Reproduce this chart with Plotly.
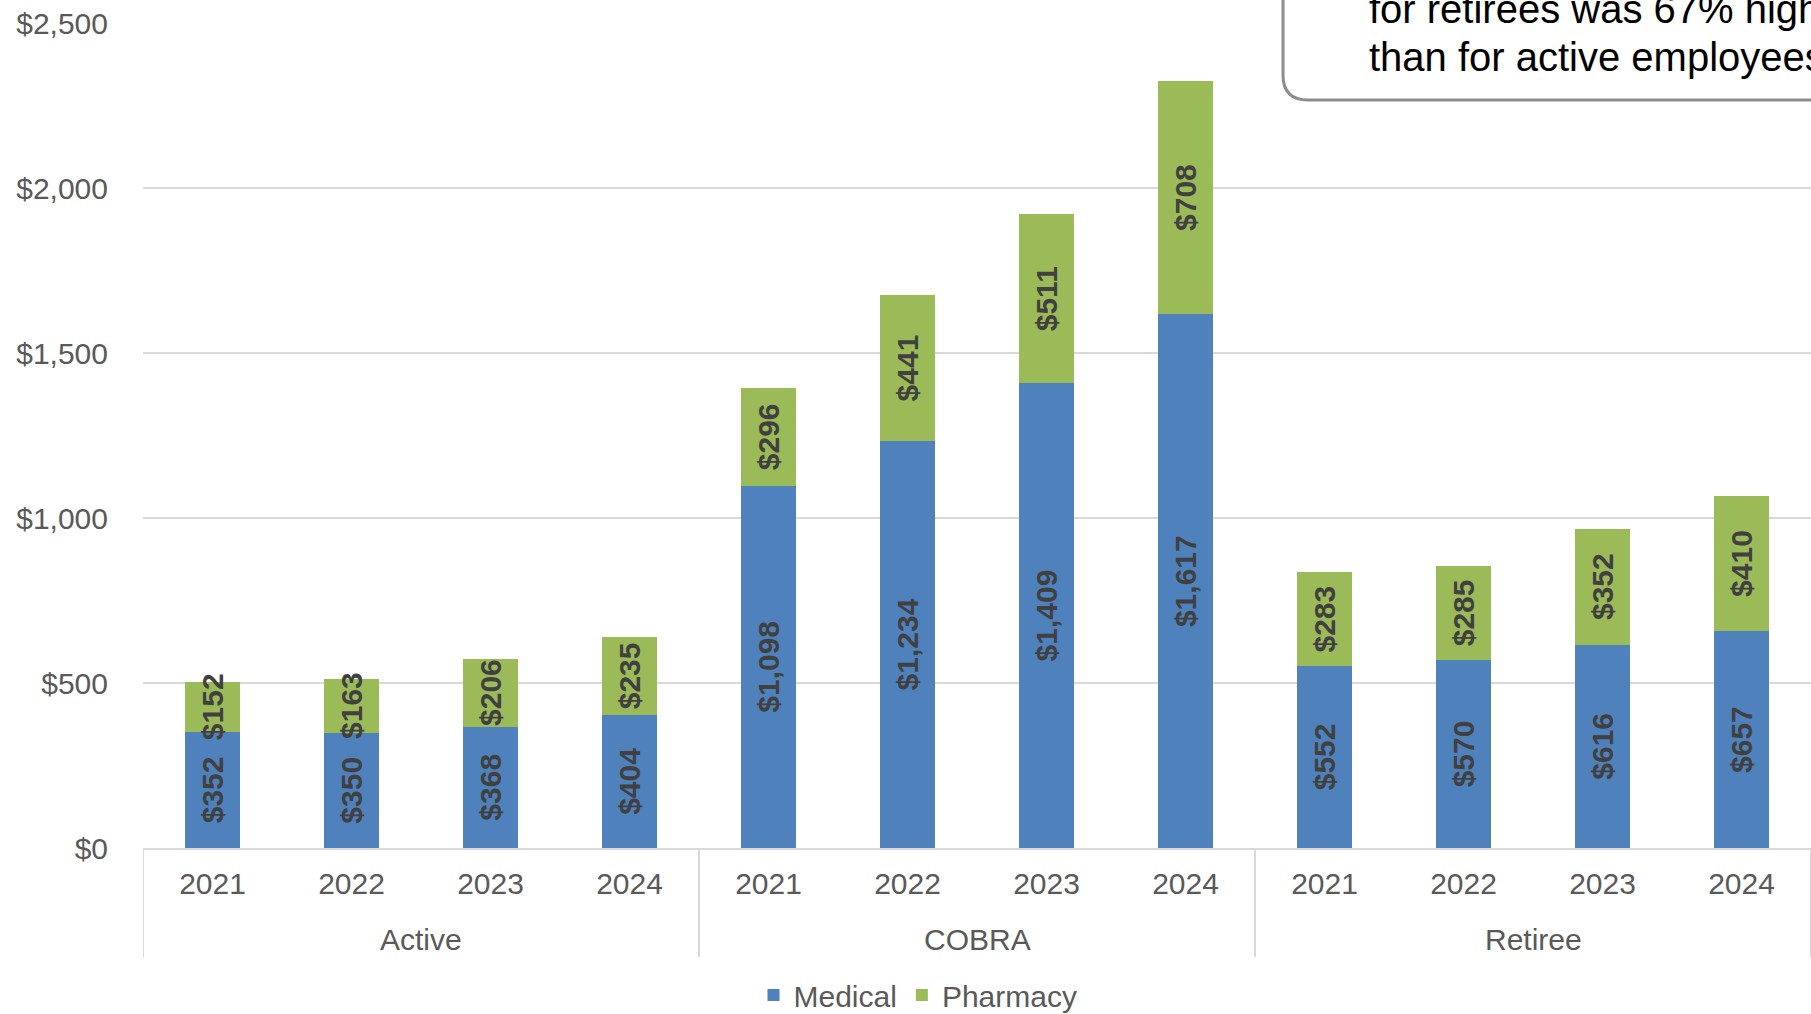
import plotly.graph_objects as go

# Monthly cost per member by population and year
groups = ["Active", "COBRA", "Retiree"]
years = ["2021", "2022", "2023", "2024"]
medical = [352, 350, 368, 404, 1098, 1234, 1409, 1617, 552, 570, 616, 657]
pharmacy = [152, 163, 206, 235, 296, 441, 511, 708, 283, 285, 352, 410]
y_ticks = [0, 500, 1000, 1500, 2000, 2500]
callout_lines = ["for retirees was 67% higher", "than for active employees."]

W, H = 1811, 1014
M_L, M_R, M_T, M_B = 143, 0, 23, 166
PW, PH = W - M_L - M_R, H - M_T - M_B

BLUE = "#4f81bd"
GREEN = "#9bbb59"
GRID = "#d9d9d9"
AXIS_TXT = "#595959"
LABEL_TXT = "#404040"
FONT = "Liberation Sans, Arial, sans-serif"


def px_x(px):
    return (px - M_L) / PW


def px_y(py):
    return (M_T + PH - py) / PH


n_years = len(years)
x = list(range(len(groups) * n_years))
tick_text = years * len(groups)

fig = go.Figure()
for name, vals, color in [("Medical", medical, BLUE), ("Pharmacy", pharmacy, GREEN)]:
    fig.add_trace(go.Bar(
        x=x, y=vals, name=name, marker=dict(color=color, line=dict(width=0)),
        width=0.4,
        text=[f"${v:,}" for v in vals],
        textposition="inside", insidetextanchor="middle", textangle=-90,
        constraintext="none", cliponaxis=False,
        insidetextfont=dict(family=FONT, size=30, color=LABEL_TXT, weight="bold"),
    ))

# group labels and dividers beneath the year labels
shapes = []
annotations = []
for gi, g in enumerate(groups):
    center = gi * n_years + (n_years - 1) / 2
    annotations.append(dict(
        x=center, xref="x", y=px_y(939), yref="paper", text=g, showarrow=False,
        xanchor="center", yanchor="middle",
        font=dict(family=FONT, size=30, color=AXIS_TXT),
    ))
for b in range(len(groups) + 1):
    xb = b * n_years - 0.5
    shapes.append(dict(
        type="line", xref="x", yref="paper", x0=xb, x1=xb, y0=0, y1=px_y(957),
        line=dict(color=GRID, width=2), layer="below",
    ))

# callout box with a rounded lower-left corner
bx, by = px_x(1283), px_y(100)
rx, ry = 25 / PW, 25 / PH
path = (f"M {bx},1.3 L {bx},{by + ry} Q {bx},{by} {bx + rx},{by} "
        f"L 1.2,{by} L 1.2,1.3 Z")
shapes.append(dict(
    type="path", xref="paper", yref="paper", path=path,
    fillcolor="white", line=dict(color="#8c8c8c", width=3), layer="above",
))
for line, mid in zip(callout_lines, [9, 57]):
    annotations.append(dict(
        x=px_x(1367), xref="paper", y=px_y(mid), yref="paper", text=line,
        showarrow=False, xanchor="left", yanchor="middle",
        font=dict(family=FONT, size=40, color="black"),
    ))

fig.update_layout(
    width=W, height=H,
    margin=dict(l=M_L, r=M_R, t=M_T, b=M_B, pad=0, autoexpand=False),
    barmode="stack",
    plot_bgcolor="white", paper_bgcolor="white",
    font=dict(family=FONT, size=30, color=AXIS_TXT),
    showlegend=True,
    legend=dict(
        orientation="h", xref="container", x=918 / W, xanchor="center",
        yref="container", y=1 - 995 / H, yanchor="middle",
        font=dict(family=FONT, size=30, color=AXIS_TXT), itemclick=False,
        bgcolor="rgba(0,0,0,0)", traceorder="normal", itemwidth=30,
    ),
    xaxis=dict(
        tickmode="array", tickvals=x, ticktext=tick_text,
        range=[-0.5, len(x) - 0.5], showgrid=False, zeroline=False,
        showline=True, linecolor=GRID, linewidth=2, ticks="",
        tickfont=dict(family=FONT, size=30, color=AXIS_TXT),
        ticklabelstandoff=8, automargin=False,
    ),
    yaxis=dict(
        range=[0, 2500], tickmode="array", tickvals=y_ticks,
        ticktext=[f"${v:,}" for v in y_ticks],
        showgrid=True, gridcolor=GRID, gridwidth=2,
        zeroline=False, showline=False, ticks="",
        tickfont=dict(family=FONT, size=30, color=AXIS_TXT),
        ticklabelstandoff=34, automargin=False,
    ),
    shapes=shapes, annotations=annotations,
)

fig.write_html("out.html")
